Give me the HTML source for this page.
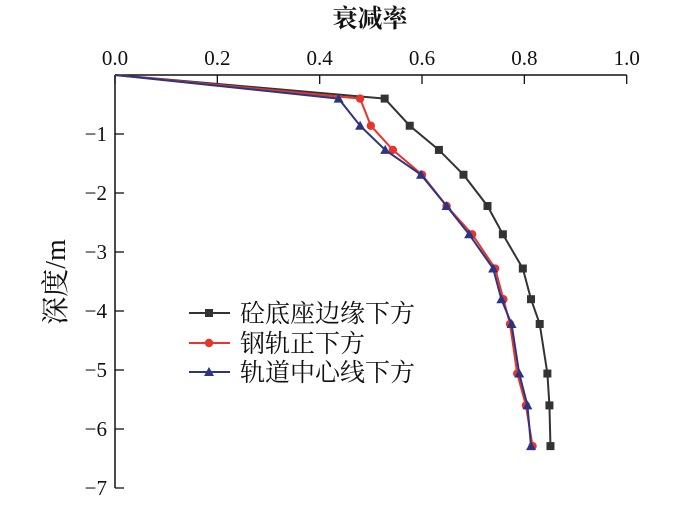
<!DOCTYPE html>
<html><head><meta charset="utf-8"><style>
body{margin:0;background:#fff;}
svg text{font-family:"Liberation Serif","Noto Serif CJK SC",serif;fill:#111;}
</style></head><body>
<svg width="700" height="509" id="c">
<g id="plot"></g>
</svg>
<script>
const depths=[0,-0.40,-0.86,-1.27,-1.69,-2.22,-2.70,-3.28,-3.80,-4.22,-5.06,-5.60,-6.29];
const seriesBase=[0,0.527,0.576,0.633,0.681,0.728,0.758,0.797,0.813,0.830,0.845,0.849,0.851];
const seriesRail=[0,0.479,0.500,0.543,0.600,0.648,0.698,0.743,0.759,0.772,0.786,0.803,0.816];
const seriesCenter=[0,0.437,0.479,0.528,0.598,0.648,0.692,0.739,0.755,0.775,0.790,0.806,0.813];
const xTicks=[0,0.2,0.4,0.6,0.8,1.0];
const xTickLabels=["0.0","0.2","0.4","0.6","0.8","1.0"];
const yTicks=[-1,-2,-3,-4,-5,-6,-7];
const yTickLabels=["−1","−2","−3","−4","−5","−6","−7"];
const legendLabels=["砼底座边缘下方","钢轨正下方","轨道中心线下方"];
const X=v=>115+v*511.7, Y=v=>75-v*59;
const NS="http://www.w3.org/2000/svg", g=document.getElementById('plot');
function mk(t,a,p){const e=document.createElementNS(NS,t);for(const k in a)e.setAttribute(k,a[k]);(p||g).appendChild(e);return e;}
let e;
e=mk('line',{x1:X(0),y1:Y(0),x2:X(1),y2:Y(0),stroke:'#111','stroke-width':1.5});

e=mk('line',{x1:X(0),y1:Y(0),x2:X(0),y2:Y(-7),stroke:'#111','stroke-width':1.5});

xTicks.forEach((v,i)=>{
 e=mk('line',{x1:X(v),y1:Y(0),x2:X(v),y2:Y(0)+9,stroke:'#111','stroke-width':1.3});
 
 e=mk('text',{x:X(v),y:65,'text-anchor':'middle','font-size':21});e.textContent=xTickLabels[i];
 
});
yTicks.forEach((v,i)=>{
 e=mk('line',{x1:X(0),y1:Y(v),x2:X(0)+9,y2:Y(v),stroke:'#111','stroke-width':1.3});
 
 e=mk('text',{x:107,y:Y(v)+7,'text-anchor':'end','font-size':21});e.textContent=yTickLabels[i];
 
});
e=mk('text',{x:370,y:27,'text-anchor':'middle','font-size':25,'font-weight':'bold'});e.textContent='衰减率';

e=mk('text',{x:0,y:0,'text-anchor':'middle','font-size':28,transform:'translate(65,282) rotate(-90)'});e.textContent='深度/m';

const defs=[[seriesBase,'#333','sq'],[seriesRail,'#e8342a','ci'],[seriesCenter,'#2b3585','tr']];
function marker(x,y,c,t,name){
 let m;
 if(t==='sq')m=mk('rect',{x:x-4,y:y-4,width:8,height:8,fill:c});
 else if(t==='ci')m=mk('circle',{cx:x,cy:y,r:4.2,fill:c});
 else m=mk('polygon',{points:`${x},${y-5} ${x-5},${y+4} ${x+5},${y+4}`,fill:c});
 
}
const names=['base-edge','rail','track-center'];
defs.forEach(([s,c,t],k)=>{
 e=mk('polyline',{points:s.map((v,i)=>X(v)+','+Y(depths[i])).join(' '),fill:'none',stroke:c,'stroke-width':2});
 
 s.forEach((v,i)=>{if(i>0)marker(X(v),Y(depths[i]),c,t,names[k]+'-point');});
});
const ly=[313,343,372];
defs.forEach(([s,c,t],k)=>{
 e=mk('line',{x1:189,y1:ly[k],x2:230,y2:ly[k],stroke:c,'stroke-width':2});
 
 marker(209,ly[k],c,t,'legend-marker');
 e=mk('text',{x:240,y:ly[k]+9,'font-size':25});e.textContent=legendLabels[k];
 
});
</script>
</body></html>
